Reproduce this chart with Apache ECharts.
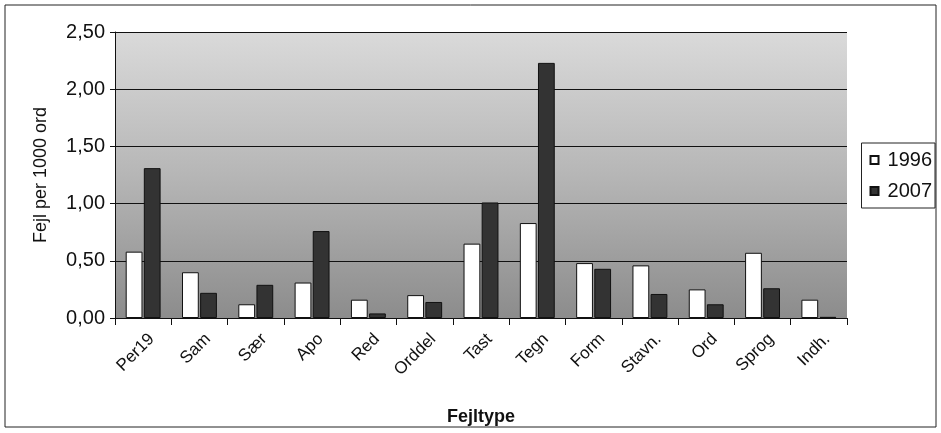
<!DOCTYPE html>
<html><head><meta charset="utf-8">
<script src="https://cdn.jsdelivr.net/npm/echarts@6/dist/echarts.min.js"></script>
<style>html,body{margin:0;padding:0;background:#fff}#c{width:941px;height:433px}</style>
</head><body><div id="c"></div>
<script>
const categories = ['Per19','Sam','Sær','Apo','Red','Orddel','Tast','Tegn','Form','Stavn.','Ord','Sprog','Indh.'];
const values1996 = [0.58,0.40,0.12,0.31,0.16,0.20,0.65,0.83,0.48,0.46,0.25,0.57,0.16];
const values2007 = [1.31,0.22,0.29,0.76,0.04,0.14,1.01,2.23,0.43,0.21,0.12,0.26,0.01];
const yTicks = {min:0, max:2.5, interval:0.5};

const chart = echarts.init(document.getElementById('c'));
const font = 'Liberation Sans, Arial, sans-serif';
chart.setOption({
  animation:false,
  graphic:[{type:'rect',shape:{x:5,y:5,width:931,height:422},style:{fill:'none',stroke:'#222',lineWidth:1}}],
  grid:{left:115,right:94,top:32,bottom:115,show:true,borderWidth:0,
    backgroundColor:{type:'linear',x:0,y:0,x2:0,y2:1,colorStops:[{offset:0,color:'#dadada'},{offset:0.5,color:'#b6b6b6'},{offset:1,color:'#8c8c8c'}]}},
  legend:{right:6,top:143,orient:'vertical',icon:'rect',itemWidth:8,itemHeight:8,itemGap:11,
    padding:[7,3,7,8],borderColor:'#222',borderWidth:1,backgroundColor:'#fff',
    textStyle:{fontFamily:font,fontSize:20,color:'#111',padding:[0,0,0,4]},
    data:['1996','2007']},
  xAxis:{type:'category',data:categories,
    name:'Fejltype',nameLocation:'middle',nameGap:90,
    nameTextStyle:{fontFamily:font,fontSize:18,fontWeight:'bold',color:'#111'},
    axisLine:{lineStyle:{color:'#111',width:1}},
    axisTick:{show:true,length:7,lineStyle:{color:'#111'}},
    axisLabel:{rotate:45,fontFamily:font,fontSize:17,color:'#111',margin:10,lineHeight:24,
      formatter:v=>'\n'+v}},
  yAxis:{type:'value',min:yTicks.min,max:yTicks.max,interval:yTicks.interval,
    name:'Fejl per 1000 ord',nameLocation:'middle',nameGap:65,
    nameTextStyle:{fontFamily:font,fontSize:18,color:'#111'},
    axisLine:{show:true,lineStyle:{color:'#111'}},
    axisTick:{show:true,length:5,lineStyle:{color:'#111'}},
    splitLine:{lineStyle:{color:'#111',width:1}},
    axisLabel:{fontFamily:font,fontSize:20,color:'#111',margin:10,
      formatter:v=>v.toFixed(2).replace('.',',')}},
  series:[
    {name:'1996',type:'bar',data:values1996,barGap:'8%',barCategoryGap:'38%',
     itemStyle:{color:'#ffffff',borderColor:'#111',borderWidth:1}},
    {name:'2007',type:'bar',data:values2007,
     itemStyle:{color:'#333333',borderColor:'#111',borderWidth:1}}
  ]
});
</script></body></html>
